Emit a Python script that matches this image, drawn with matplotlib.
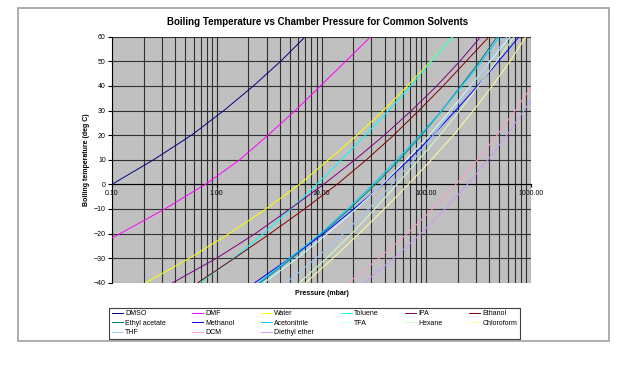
import matplotlib.pyplot as plt
from matplotlib.patches import Rectangle
from matplotlib.ticker import FixedLocator, FixedFormatter, LogLocator, NullFormatter

plt.rcParams['font.family'] = ['Liberation Sans', 'DejaVu Sans']

# temperatures (deg C) and boiling pressures (mbar)
temps = [-40, -30, -20, -10, 0, 10, 20, 30, 40, 50, 60]
temps_dmso = [0, 10, 20, 30, 40, 50, 60]
temps_dmf = [-30, -20, -10, 0, 10, 20, 30, 40, 50, 60]
temps_dcm = [-40, -30, -20, -10, 0, 10, 20, 30, 40]
temps_ether = [-40, -30, -20, -10, 0, 10, 20, 30, 35]

p_dmso = [0.10, 0.25, 0.575, 1.17, 2.24, 4.07, 7.0]
p_dmf = [0.044, 0.12, 0.32, 0.78, 1.66, 3.09, 5.62, 9.77, 17.0, 29.5]
p_water = [0.21, 0.55, 1.32, 2.95, 6.17, 11.7, 21.9, 38.9, 66.1, 110, 178]
p_toluene = [0.69, 1.45, 2.79, 5.13, 9.0, 15.5, 26.3, 43.6, 70.8, 112, 178]
p_ipa = [0.38, 1.0, 2.34, 5.0, 10.5, 20.9, 39.8, 72.4, 126, 209, 331]
p_ethanol = [0.66, 1.48, 3.24, 6.9, 14.1, 26.9, 49, 85, 145, 240, 398]
p_ethyl_acetate = [2.6, 5.25, 10.1, 18.6, 32.7, 55.6, 90.2, 141, 214, 324, 475]
p_methanol = [2.31, 5.0, 10.5, 20.4, 38.5, 68.4, 116, 191, 309, 490, 769]
p_acetonitrile = [2.51, 5.0, 9.8, 17.8, 30.9, 52.5, 87.1, 141, 219, 339, 501]
p_tfa = [2.82, 5.89, 11.5, 21.4, 38.0, 64.6, 107, 170, 263, 407, 631]
p_hexane = [6.17, 11.2, 19.5, 32.4, 52.5, 85.1, 135, 209, 316, 468, 692]
p_chloroform = [7.08, 12.9, 22.9, 39.8, 67.6, 112, 182, 282, 427, 631, 891]
p_thf = [4.57, 8.91, 16.2, 28.2, 46.8, 75.9, 117, 178, 269, 398, 589]
p_dcm = [18.0, 35.6, 66, 115, 192, 308, 474, 706, 1021]
p_ether = [25.6, 49.3, 88.9, 152, 248, 388, 587, 858, 1026]

series = [
    ('DMSO', temps_dmso, p_dmso, '#000080'),
    ('DMF', temps_dmf, p_dmf, '#FF00FF'),
    ('Water', temps, p_water, '#FFFF00'),
    ('Toluene', temps, p_toluene, '#00FFFF'),
    ('IPA', temps, p_ipa, '#800080'),
    ('Ethanol', temps, p_ethanol, '#800000'),
    ('Ethyl acetate', temps, p_ethyl_acetate, '#008080'),
    ('Methanol', temps, p_methanol, '#0000FF'),
    ('Acetonitrile', temps, p_acetonitrile, '#00CCFF'),
    ('TFA', temps, p_tfa, '#CCFFFF'),
    ('Hexane', temps, p_hexane, '#CCFFCC'),
    ('Chloroform', temps, p_chloroform, '#FFFF99'),
    ('THF', temps, p_thf, '#99CCFF'),
    ('DCM', temps_dcm, p_dcm, '#FF99CC'),
    ('Diethyl ether', temps_ether, p_ether, '#CC99FF'),
]

fig = plt.figure(figsize=(6.39, 3.67), dpi=100)
ax = fig.add_axes([112 / 639, 1 - 282.7 / 367, 419 / 639, 246 / 367])
ax.set_facecolor('#C0C0C0')

lines = {}
for name, t, p, c in series:
    ln, = ax.plot(p, t, color=c, lw=0.7, label=name, zorder=3)
    lines[name] = ln

ax.set_xscale('log')
ax.set_xlim(0.1, 1000)
ax.set_ylim(-40, 60)

# gridlines
ax.xaxis.set_minor_locator(LogLocator(base=10, subs=range(2, 10)))
ax.xaxis.set_minor_formatter(NullFormatter())
ax.grid(which='major', axis='both', color='#303030', lw=0.8, zorder=1)
ax.grid(which='minor', axis='x', color='#303030', lw=0.8, zorder=1)
ax.tick_params(which='minor', length=0)

xt = [0.1, 1, 10, 100, 1000]
ax.xaxis.set_major_locator(FixedLocator(xt))
ax.xaxis.set_major_formatter(FixedFormatter(['%.2f' % v for v in xt]))
ax.set_yticks(range(-40, 61, 10))

ax.spines['bottom'].set_position(('data', 0))
ax.spines['top'].set_visible(False)
ax.spines['right'].set_visible(False)
ax.spines['left'].set_color('black')
ax.spines['left'].set_linewidth(0.8)
ax.spines['bottom'].set_linewidth(0.8)
ax.tick_params(axis='x', which='major', labelsize=5, length=2, pad=2)
ax.tick_params(axis='y', labelsize=5, length=3, pad=1.5)

ax.set_ylabel('Boiling temperature (deg C)', fontsize=5, fontweight='bold')
ax.yaxis.set_label_coords(-0.052, 0.5)
fig.text(321.7 / 639, 1 - 293.5 / 367, 'Pressure (mbar)', fontsize=5,
         fontweight='bold', ha='center', va='center')
fig.text(318 / 639, 1 - 22 / 367,
         'Boiling Temperature vs Chamber Pressure for Common Solvents',
         fontsize=7, fontweight='bold', ha='center', va='center')

# legend is filled column by column, so reorder to read row by row
order = ['DMSO', 'Ethyl acetate', 'THF', 'DMF', 'Methanol', 'DCM',
         'Water', 'Acetonitrile', 'Diethyl ether', 'Toluene', 'TFA',
         'IPA', 'Hexane', 'Ethanol', 'Chloroform']
leg = fig.legend([lines[n] for n in order], order, ncol=6, fontsize=5,
                 loc='lower left', mode='expand',
                 bbox_to_anchor=(109 / 639, 1 - 339 / 367, 411 / 639, 35 / 367),
                 fancybox=False, edgecolor='#404040', framealpha=1,
                 handlelength=1.6, handletextpad=0.3, borderaxespad=0,
                 labelspacing=0.35, borderpad=0.4)
leg.get_frame().set_linewidth(0.8)

# outer chart border
fig.patches.append(Rectangle((18 / 639, 1 - 341 / 367), 591 / 639, 333 / 367,
                             transform=fig.transFigure, fill=False,
                             edgecolor='#A0A0A0', lw=1.2))

fig.savefig('out.png', dpi=100)
